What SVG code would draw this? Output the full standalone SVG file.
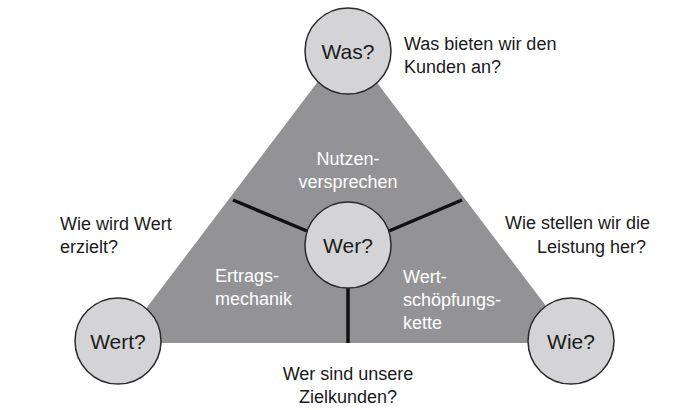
<svg xmlns="http://www.w3.org/2000/svg" width="700" height="410" viewBox="0 0 700 410">
<style>
.t{font-family:"Liberation Sans",Arial,sans-serif;font-size:18px;fill:#1a1a1a}
.w{font-family:"Liberation Sans",Arial,sans-serif;font-size:18px;fill:#ffffff}
.c{font-family:"Liberation Sans",Arial,sans-serif;font-size:21px;fill:#1a1a1a;text-anchor:middle}
.circ{fill:#d4d4d6;stroke:#2a2a2a;stroke-width:1.5}
.sep{stroke:#111;stroke-width:3.5;fill:none}
</style>
<rect width="700" height="410" fill="#ffffff"/>
<g id="triangle">
<polygon points="347,43 120,343 574,343" fill="#939395"/>
</g>
<g id="connectors">
<line class="sep" x1="233" y1="200" x2="307" y2="231"/>
<line class="sep" x1="462" y1="200" x2="389" y2="231"/>
<line class="sep" x1="348" y1="288" x2="348" y2="343"/>
</g>
<g id="segment-nutzen">
<text class="w" x="348" y="165" text-anchor="middle">Nutzen-</text>
<text class="w" x="348" y="188" text-anchor="middle">versprechen</text>
</g>
<g id="segment-ertrag">
<text class="w" x="215" y="282">Ertrags-</text>
<text class="w" x="215" y="305">mechanik</text>
</g>
<g id="segment-wert">
<text class="w" x="403" y="283">Wert-</text>
<text class="w" x="403" y="306">schöpfungs-</text>
<text class="w" x="403" y="329">kette</text>
</g>
<g id="node-was">
<circle class="circ" cx="348" cy="51" r="43"/>
<text class="c" x="348" y="59">Was?</text>
</g>
<g id="node-wer">
<circle class="circ" cx="348" cy="245" r="43"/>
<text class="c" x="348" y="253">Wer?</text>
</g>
<g id="node-wert">
<circle class="circ" cx="118" cy="341" r="43"/>
<text class="c" x="118" y="349">Wert?</text>
</g>
<g id="node-wie">
<circle class="circ" cx="571" cy="341" r="43"/>
<text class="c" x="571" y="349">Wie?</text>
</g>
<g id="labels">
<text class="t" x="404" y="50">Was bieten wir den</text>
<text class="t" x="404" y="73">Kunden an?</text>
<text class="t" x="60" y="230">Wie wird Wert</text>
<text class="t" x="60" y="253">erzielt?</text>
<text class="t" x="505" y="229">Wie stellen wir die</text>
<text class="t" x="537" y="253">Leistung her?</text>
<text class="t" x="348" y="380" text-anchor="middle">Wer sind unsere</text>
<text class="t" x="348" y="403" text-anchor="middle">Zielkunden?</text>
</g>
</svg>
